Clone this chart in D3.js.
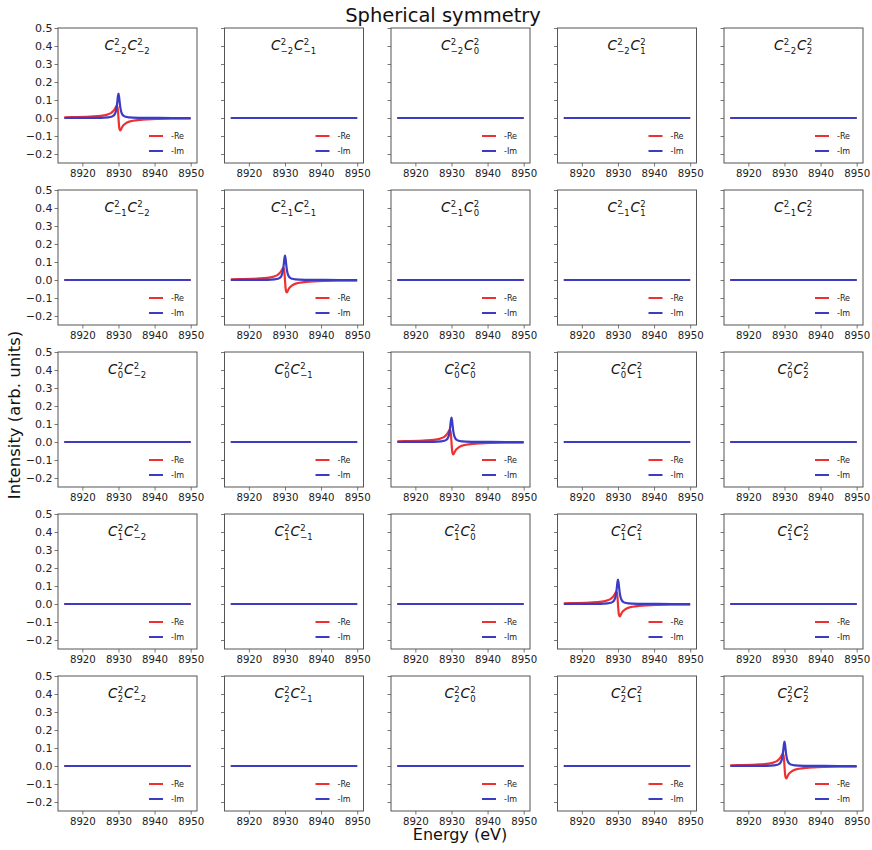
<!DOCTYPE html>
<html><head><meta charset="utf-8">
<script src="https://cdn.jsdelivr.net/npm/d3@7"></script>
<style>body{margin:0;background:#fff;} svg{display:block;font-family:"DejaVu Sans",sans-serif;}</style>
</head><body>
<svg id="c" width="872" height="850"></svg>
<script>
// ---- data ----
const orders = ["−2", "−1", "0", "1", "2"];
const xTicks = [8920, 8930, 8940, 8950];
const yTicks = [-0.2, -0.1, 0.0, 0.1, 0.2, 0.3, 0.4, 0.5];
const energy = [8915, 8918, 8921, 8923, 8925, 8926, 8927, 8928, 8928.5, 8929, 8929.3, 8929.5, 8929.7, 8929.85, 8930,
                8930.15, 8930.3, 8930.5, 8930.7, 8931, 8931.5, 8932, 8933, 8934, 8936, 8938, 8941, 8945, 8950];
const diagRe = [0.0040, 0.0051, 0.0067, 0.0086, 0.0120, 0.0150, 0.0198, 0.0289, 0.0372, 0.0505, 0.0614, 0.0671, 0.0623, 0.0405, 0.0,
                -0.0405, -0.0623, -0.0690, -0.0630, -0.0515, -0.0380, -0.0295, -0.0200, -0.0152, -0.0101, -0.0076, -0.0055, -0.0040, -0.0030];
const diagIm = [0.0001, 0.0002, 0.0003, 0.0006, 0.0011, 0.0017, 0.0030, 0.0065, 0.0112, 0.0226, 0.0395, 0.0606, 0.0935, 0.1215, 0.135,
                0.1215, 0.0935, 0.0606, 0.0395, 0.0226, 0.0112, 0.0065, 0.0030, 0.0017, 0.0008, 0.0004, 0.0002, 0.0001, 0.0001];
const offEnergy = [8915, 8950];
const offRe = [0, 0];
const offIm = [0, 0];
const legendLabels = ["-Re", "-Im"];
const colors = {re: "#f03030", im: "#3b3bc4"};

// ---- layout ----
const svg = d3.select("#c");
const W = 139, H = 135;
const left0 = 58, top0 = 28, dx = 166.5, dy = 162;
const x = d3.scaleLinear().domain([8913.25, 8951.75]).range([0, W]);
const y = d3.scaleLinear().domain([-0.25, 0.5]).range([H, 0]);
const line = d3.line().x(d => x(d[0])).y(d => y(d[1])).curve(d3.curveMonotoneX);

for (let r = 0; r < 5; r++) {
  for (let c = 0; c < 5; c++) {
    const g = svg.append("g").attr("transform", `translate(${left0 + c * dx},${top0 + r * dy})`);
    g.append("rect").attr("width", W).attr("height", H).attr("fill", "#fff");
    // x axis
    const xa = g.append("g").attr("transform", `translate(0,${H})`)
      .call(d3.axisBottom(x).tickValues(xTicks).tickSize(3.5).tickPadding(3).tickFormat(d3.format("d")));
    xa.selectAll("text").attr("font-size", 10.2);
    // y axis (labels only on first column, shared y)
    const ya = g.append("g")
      .call(d3.axisLeft(y).tickValues(yTicks).tickSize(3.5).tickPadding(2)
        .tickFormat(c === 0 ? (d => d3.format(".1f")(d).replace("-", "−")) : () => ""));
    ya.selectAll("text").attr("font-size", 11);
    [xa, ya].forEach(a => {
      a.select(".domain").remove();
      a.selectAll("line").attr("stroke", "#555").attr("stroke-width", 0.8);
      a.selectAll("text").attr("fill", "#222").attr("font-family", "DejaVu Sans");
    });
    // frame
    g.append("rect").attr("width", W).attr("height", H).attr("fill", "none").attr("stroke", "#555").attr("stroke-width", 1);

    const diag = r === c;
    const E = diag ? energy : offEnergy;
    const re = diag ? diagRe : offRe;
    const im = diag ? diagIm : offIm;
    g.append("path").datum(E.map((e, i) => [e, re[i]])).attr("d", line)
      .attr("fill", "none").attr("stroke", colors.re).attr("stroke-width", 2.2);
    g.append("path").datum(E.map((e, i) => [e, im[i]])).attr("d", line)
      .attr("fill", "none").attr("stroke", colors.im).attr("stroke-width", 2.2);

    // legend
    const lg = g.append("g").attr("transform", `translate(${W - 48},${H - 27})`);
    legendLabels.forEach((lab, i) => {
      lg.append("line").attr("x1", 0).attr("x2", 14).attr("y1", i * 15).attr("y2", i * 15)
        .attr("stroke", i === 0 ? colors.re : colors.im).attr("stroke-width", 2);
      lg.append("text").attr("x", 22).attr("y", i * 15 + 3).attr("font-size", 8).attr("fill", "#222").text(lab);
    });

    // title C^2_{m} C^2_{n}
    const tg = g.append("g");
    let cx = 0;
    [orders[r], orders[c]].forEach(m => {
      const t = tg.append("text").attr("x", cx).attr("y", 0).attr("font-size", 13.5).attr("font-style", "italic").attr("fill", "#111").text("C");
      cx += t.node().getComputedTextLength() + 0.3;
      const sup = tg.append("text").attr("x", cx).attr("y", -5.5).attr("font-size", 8.5).attr("fill", "#111").text("2");
      const sub = tg.append("text").attr("x", cx).attr("y", 3.5).attr("font-size", 8.5).attr("fill", "#111").text(m);
      cx += Math.max(sup.node().getComputedTextLength(), sub.node().getComputedTextLength()) + 0.8;
    });
    tg.attr("transform", `translate(${W / 2 - cx / 2},22)`);
  }
}

// overall labels
svg.append("text").attr("x", 443).attr("y", 22).attr("text-anchor", "middle").attr("font-size", 19.5).attr("fill", "#111").text("Spherical symmetry");
svg.append("text").attr("x", 460).attr("y", 840).attr("text-anchor", "middle").attr("font-size", 16).attr("fill", "#111").text("Energy (eV)");
svg.append("text").attr("transform", "translate(20,415) rotate(-90)").attr("text-anchor", "middle").attr("font-size", 16.5).attr("fill", "#111").text("Intensity (arb. units)");
</script>
</body></html>
